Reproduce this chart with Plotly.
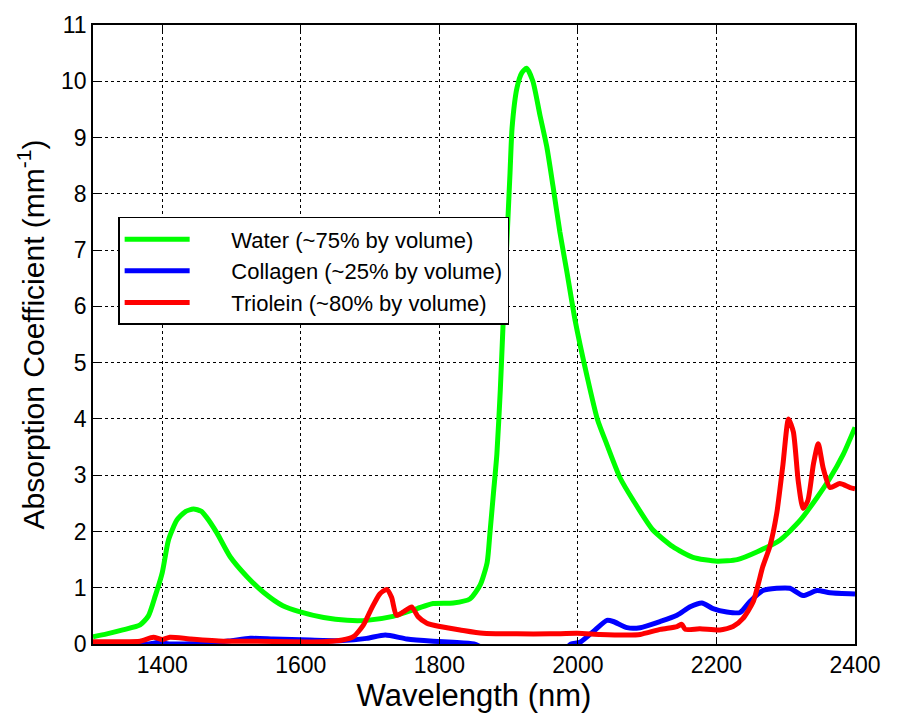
import plotly.graph_objects as go

# ---- data ----
water_x = [1300, 1320, 1343, 1368, 1380, 1390, 1400, 1409, 1421, 1433, 1445, 1456, 1464, 1479,
           1498, 1522, 1546, 1574, 1599, 1633, 1667, 1695, 1733, 1768, 1791, 1820, 1844, 1859,
           1869, 1873, 1878, 1883, 1888, 1892, 1899, 1902, 1905, 1912, 1919, 1926, 1935, 1945,
           1955, 1964, 1974, 1984, 1996, 2013, 2028, 2042, 2061, 2080, 2108, 2137, 2166, 2201,
           2230, 2259, 2292, 2321, 2345, 2364, 2383, 2400]
water_y = [0.13, 0.18, 0.25, 0.34, 0.50, 0.86, 1.27, 1.85, 2.20, 2.35, 2.40, 2.36, 2.25, 1.97,
           1.55, 1.20, 0.92, 0.68, 0.57, 0.47, 0.42, 0.42, 0.49, 0.63, 0.72, 0.73, 0.80, 1.05,
           1.45, 1.97, 2.67, 3.37, 4.52, 5.69, 7.56, 8.37, 9.18, 9.88, 10.15, 10.23, 10.00, 9.41,
           8.84, 8.14, 7.32, 6.62, 5.75, 4.77, 4.00, 3.54, 2.95, 2.55, 2.03, 1.73, 1.54, 1.47,
           1.50, 1.64, 1.85, 2.20, 2.60, 2.95, 3.37, 3.85]

collagen_x = [1300, 1380, 1395, 1410, 1470, 1500, 1527, 1560, 1613, 1660, 1695, 1722, 1753,
              1791, 1820, 1850, 1870, 1980, 1990, 2003, 2022, 2042, 2051, 2071, 2090, 2119,
              2143, 2162, 2179, 2195, 2215, 2234, 2248, 2267, 2287, 2306, 2325, 2345, 2364, 2400]
collagen_y = [0.00, 0.00, 0.03, 0.00, 0.02, 0.06, 0.10, 0.09, 0.07, 0.06, 0.10, 0.16, 0.09,
              0.05, 0.03, 0.00, -0.10, -0.10, 0.00, 0.03, 0.22, 0.42, 0.40, 0.29, 0.29, 0.40,
              0.51, 0.66, 0.73, 0.63, 0.57, 0.56, 0.75, 0.95, 0.99, 0.99, 0.86, 0.95, 0.91, 0.89]

triolein_x = [1300, 1340, 1368, 1387, 1400, 1411, 1440, 1488, 1537, 1584, 1632, 1660, 1676,
              1690, 1702, 1714, 1724, 1731, 1738, 1748, 1760, 1769, 1782, 1801, 1830, 1863,
              1912, 1960, 1999, 2032, 2071, 2090, 2119, 2143, 2150, 2155, 2176, 2205, 2224,
              2238, 2253, 2267, 2277, 2287, 2296, 2304, 2311, 2318, 2325, 2332, 2340, 2347,
              2354, 2364, 2378, 2393, 2400]
triolein_y = [0.04, 0.04, 0.05, 0.12, 0.08, 0.12, 0.09, 0.05, 0.05, 0.04, 0.04, 0.07, 0.13,
              0.33, 0.63, 0.89, 0.97, 0.83, 0.51, 0.57, 0.66, 0.49, 0.37, 0.31, 0.25, 0.19,
              0.18, 0.18, 0.19, 0.17, 0.16, 0.17, 0.26, 0.31, 0.35, 0.26, 0.27, 0.25, 0.31,
              0.45, 0.75, 1.38, 1.73, 2.32, 3.19, 4.00, 3.77, 2.90, 2.41, 2.55, 3.20, 3.56,
              3.13, 2.78, 2.85, 2.78, 2.76]

names = ["Water (~75% by volume)", "Collagen (~25% by volume)", "Triolein (~80% by volume)"]
colors = ["#00ff00", "#0000ff", "#ff0000"]

x_ticks = [1400, 1600, 1800, 2000, 2200, 2400]
y_ticks = list(range(0, 12))

NBSP = "\u00a0"
fig = go.Figure()
for xs, ys, nm, c in zip([water_x, collagen_x, triolein_x],
                         [water_y, collagen_y, triolein_y], names, colors):
    fig.add_trace(go.Scatter(x=xs, y=ys, mode="lines", name=NBSP * 6 + nm,
                             line=dict(color=c, width=5, shape="spline", smoothing=0.6)))

font_family = "Liberation Sans, Arial, sans-serif"
axis_common = dict(showline=True, linecolor="black", linewidth=1.5, mirror="ticks",
                   ticks="inside", ticklen=6, tickcolor="black", showgrid=True,
                   gridcolor="black", griddash="dot", gridwidth=0.8, zeroline=False,
                   tickfont=dict(family=font_family, size=23, color="black"))

fig.update_layout(
    width=898, height=714,
    margin=dict(l=93, r=43, t=16, b=68),
    paper_bgcolor="white", plot_bgcolor="white",
    font=dict(family=font_family, color="black"),
    showlegend=True,
    legend=dict(x=0.033, y=0.69, xanchor="left", yanchor="top",
                bgcolor="white", bordercolor="black", borderwidth=1.5,
                font=dict(family=font_family, size=22, color="black"),
                itemwidth=65, tracegroupgap=0),
    xaxis=dict(range=[1300, 2400], tickvals=x_ticks,
               title=dict(text="Wavelength (nm)", standoff=2,
                          font=dict(family=font_family, size=31, color="black")),
               **axis_common),
    yaxis=dict(range=[0, 11], tickvals=y_ticks,
               title=dict(text="Absorption Coefficient (mm<sup>-1</sup>)", standoff=8,
                          font=dict(family=font_family, size=30, color="black")),
               **axis_common),
)

fig.write_html("out.html")
